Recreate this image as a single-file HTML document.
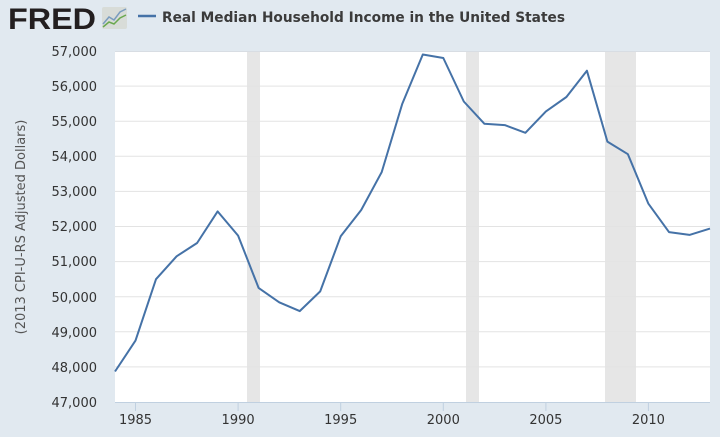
<!DOCTYPE html>
<html><head><style>
body{margin:0;width:720px;height:433px;background:#e1e9f0;overflow:hidden;font-family:"DejaVu Sans",sans-serif}
</style></head><body>
<svg width="720" height="433" xmlns="http://www.w3.org/2000/svg" font-family="DejaVu Sans, Liberation Sans, sans-serif">
<rect width="720" height="433" fill="#e1e9f0"/>
<text x="8" y="29" font-size="30" font-weight="bold" fill="#231f20" font-family="Liberation Sans, sans-serif" textLength="88" lengthAdjust="spacingAndGlyphs">FRED</text>
<rect x="102" y="7" width="25" height="22" fill="#d8dcd8" rx="2"/>
<polyline points="103,24 109,17 114,20 120,12 126,9" fill="none" stroke="#7a9cbf" stroke-width="1.5"/>
<polyline points="103,27 109,22 114,24 120,18 126,15" fill="none" stroke="#6aa84f" stroke-width="1.5"/>
<line x1="138" y1="16" x2="156" y2="16" stroke="#4572a7" stroke-width="2.5"/>
<text x="162" y="22" font-size="14" font-weight="bold" fill="#3b3b3b" textLength="403" lengthAdjust="spacingAndGlyphs">Real Median Household Income in the United States</text>
<rect x="115" y="51" width="595" height="351" fill="#fff"/>
<rect x="247" y="51" width="13" height="351" fill="#e6e6e6"/>
<rect x="466" y="51" width="13" height="351" fill="#e6e6e6"/>
<rect x="605" y="51" width="31" height="351" fill="#e6e6e6"/>
<g stroke="#e3e3e3" stroke-width="1">
<line x1="115" x2="710" y1="86.1" y2="86.1"/><line x1="115" x2="710" y1="121.2" y2="121.2"/>
<line x1="115" x2="710" y1="156.3" y2="156.3"/><line x1="115" x2="710" y1="191.4" y2="191.4"/>
<line x1="115" x2="710" y1="226.5" y2="226.5"/><line x1="115" x2="710" y1="261.6" y2="261.6"/>
<line x1="115" x2="710" y1="296.7" y2="296.7"/><line x1="115" x2="710" y1="331.8" y2="331.8"/>
<line x1="115" x2="710" y1="366.9" y2="366.9"/>
</g>
<line x1="115" x2="710" y1="51.5" y2="51.5" stroke="#d8dde3"/>
<line x1="115" x2="710" y1="402.5" y2="402.5" stroke="#c0d0e0"/>
<g stroke="#c0d0e0"><line x1="135.5" x2="135.5" y1="402" y2="411"/><line x1="238.1" x2="238.1" y1="402" y2="411"/><line x1="340.7" x2="340.7" y1="402" y2="411"/><line x1="443.3" x2="443.3" y1="402" y2="411"/><line x1="545.9" x2="545.9" y1="402" y2="411"/><line x1="648.4" x2="648.4" y1="402" y2="411"/></g>
<g font-size="13" fill="#333" text-anchor="end">
<text x="97" y="56">57,000</text><text x="97" y="91">56,000</text><text x="97" y="126">55,000</text>
<text x="97" y="161">54,000</text><text x="97" y="196">53,000</text><text x="97" y="231">52,000</text>
<text x="97" y="266">51,000</text><text x="97" y="302">50,000</text><text x="97" y="337">49,000</text>
<text x="97" y="372">48,000</text><text x="97" y="407">47,000</text>
</g>
<g font-size="13" fill="#333" text-anchor="middle">
<text x="135.5" y="424">1985</text><text x="238.1" y="424">1990</text><text x="340.7" y="424">1995</text>
<text x="443.3" y="424">2000</text><text x="545.9" y="424">2005</text><text x="648.4" y="424">2010</text>
</g>
<text transform="translate(25,227) rotate(-90)" font-size="13" fill="#555" text-anchor="middle">(2013 CPI-U-RS Adjusted Dollars)</text>
<polyline fill="none" stroke="#4572a7" stroke-width="2" stroke-linejoin="round" points="115,371.5 135.5,340.6 156,279.2 176.6,256.3 197.1,243 217.6,211.4 238.1,235.6 258.6,287.9 279.2,302.3 299.7,311.1 320.2,291.4 340.7,236.3 361.2,210 381.7,172.1 402.3,103.7 422.8,54.5 443.3,58 463.8,101.5 484.3,123.7 504.8,125.1 525.4,132.8 545.9,111.4 566.4,97 586.9,70.7 607.4,141.6 627.9,154.2 648.4,203.7 669,232.1 689.5,234.9 710,228.6"/>
</svg>
</body></html>
